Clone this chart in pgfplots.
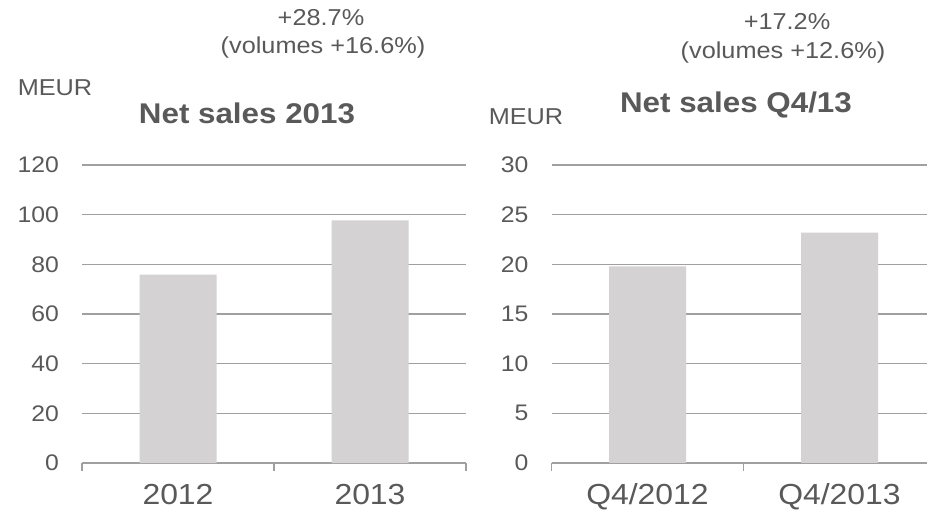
\documentclass[border=0pt]{standalone}
\usepackage{fontspec}
\setmainfont{Liberation Sans}
\usepackage{pgfplots}
\pgfplotsset{compat=1.18}
\definecolor{txt}{RGB}{89,89,89}
\definecolor{bargray}{RGB}{212,210,211}
\definecolor{gridgray}{RGB}{160,160,160}
\begin{document}
\begin{tikzpicture}
\useasboundingbox (0bp,0bp) rectangle (927bp,513bp);
\pgfplotsset{
  salesaxis/.style={
    scale only axis, height=298bp,
    ymin=0, xmin=-0.5,
    axis x line*=bottom, axis y line*=left,
    y axis line style={draw=none},
    x axis line style={gridgray, line width=1.3bp, -},
    ymajorgrids, grid style={gridgray, line width=1.3bp},
    ytick style={draw=none},
    xtick={0,1},
    major x tick style={draw=none},
    minor xtick={-0.5,0.5,1.5},
    minor tick length=8bp,
    minor x tick style={gridgray, line width=1.3bp},
    tick align=outside,
    /pgf/number format/assume math mode=true,
    yticklabel style={font=\fontsize{22.5bp}{26bp}\selectfont, text=txt, xscale=1.1, inner sep=0pt, anchor=east, xshift=-17bp},
    xticklabel style={font=\fontsize{29bp}{34bp}\selectfont, text=txt, xscale=1.1, inner sep=0pt, anchor=base, yshift=-37bp},
    bar width=77bp,
    clip=false,
  }
}
\begin{axis}[salesaxis, at={(82bp,50bp)}, anchor=south west, width=384bp, xmax=1.5, ymax=120,
  ytick={0,20,...,120}, xticklabels={2012,2013}]
\addplot[ybar, fill=bargray, draw=none] coordinates {(0,75.9) (1,97.7)};
\end{axis}
\begin{axis}[salesaxis, at={(551.5bp,50bp)}, anchor=south west, width=375.5bp, xmax=1.4557, ymax=30,
  ytick={0,5,...,30}, xticklabels={Q4/2012,Q4/2013}]
\addplot[ybar, fill=bargray, draw=none] coordinates {(0,19.8) (1,23.2)};
\end{axis}
\tikzset{lbl/.style={font=\fontsize{23bp}{27bp}\selectfont, text=txt, xscale=1.1, inner sep=0pt},
  ttl/.style={font=\bfseries\fontsize{28.5bp}{33bp}\selectfont, text=txt, xscale=1.1, inner sep=0pt}}
\node[lbl] at (321bp,495bp) {+28.7\%};
\node[lbl] at (323bp,465bp) {(volumes +16.6\%)};
\node[lbl] at (55bp,425bp) {MEUR};
\node[ttl] at (247bp,400bp) {Net sales 2013};
\node[lbl] at (787bp,491bp) {+17.2\%};
\node[lbl] at (783bp,460bp) {(volumes +12.6\%)};
\node[lbl] at (526bp,396bp) {MEUR};
\node[ttl] at (736bp,408bp) {Net sales Q4/13};
\end{tikzpicture}
\end{document}
